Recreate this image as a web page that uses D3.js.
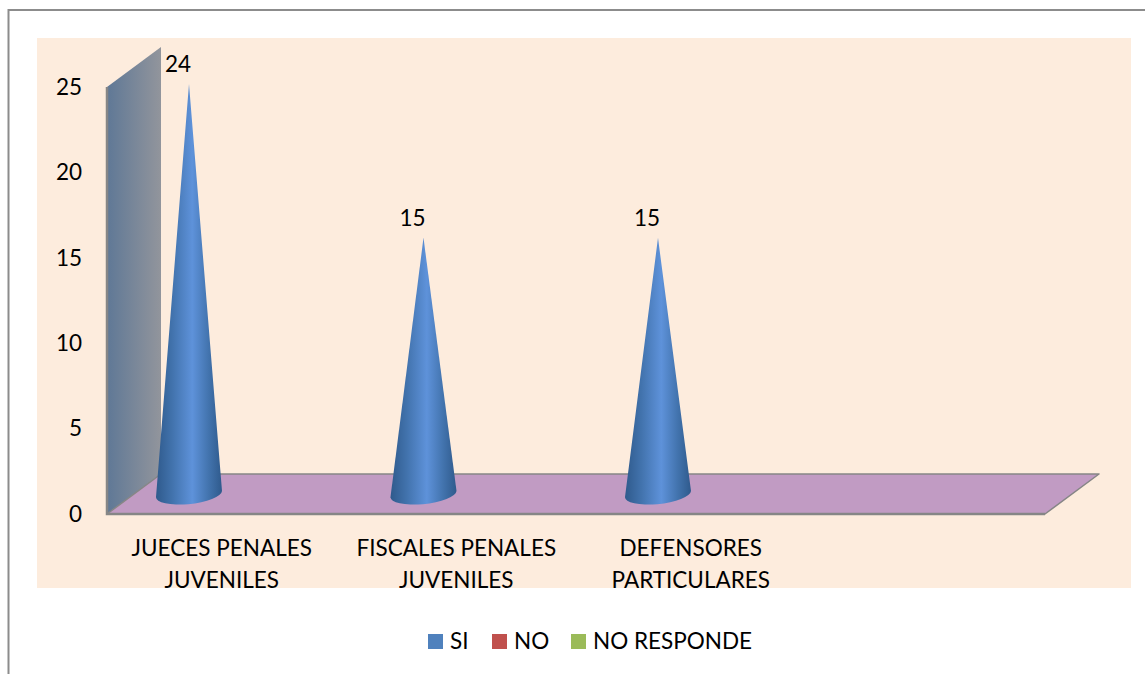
<!DOCTYPE html>
<html>
<head>
<meta charset="utf-8">
<script src="https://cdn.jsdelivr.net/npm/d3@7"></script>
<style>
  html, body { margin: 0; padding: 0; background: #fff; }
  svg { display: block; }
  text { font-family: Lato, "Open Sans", sans-serif; fill: #000; }
</style>
</head>
<body>
<svg id="chart" width="1145" height="674"></svg>
<script>
// values
var categories = [["JUECES PENALES", "JUVENILES"], ["FISCALES PENALES", "JUVENILES"], ["DEFENSORES", "PARTICULARES"], [""]]
var seriesNames = ["SI", "NO", "NO RESPONDE"]
var siValues = [24, 15, 15, null]
var noValues = [null, null, null, null]
var noRespondeValues = [null, null, null, null]
var yTicks = [0, 5, 10, 15, 20, 25]
var seriesColors = ["#4f81bd", "#c0504d", "#9bbb59"]

var svg = d3.select("#chart")

// 3d box of the chart
const boxLeft = 107, boxRight = 1045, boxBottom = 514, boxTop = 87
const depthX = 54, depthY = -40
const fontSize = "22.5px"

var x0 = d3.scaleBand().domain(d3.range(categories.length)).range([boxLeft, boxRight])
var x1 = d3.scaleBand().domain(seriesNames).range([24, 210])
var y = d3.scaleLinear().domain([0, 25]).range([boxBottom, boxTop])

var defs = svg.append("defs")
var wallGrad = defs.append("linearGradient").attr("id", "wallGrad")
wallGrad.append("stop").attr("offset", "0%").attr("stop-color", "#5f7896")
wallGrad.append("stop").attr("offset", "100%").attr("stop-color", "#92959c")

var coneGrad = defs.append("linearGradient").attr("id", "coneGrad")
coneGrad.append("stop").attr("offset", "0%").attr("stop-color", "#2f5a8c")
coneGrad.append("stop").attr("offset", "25%").attr("stop-color", "#4273ad")
coneGrad.append("stop").attr("offset", "55%").attr("stop-color", "#5e92da")
coneGrad.append("stop").attr("offset", "80%").attr("stop-color", "#4273ad")
coneGrad.append("stop").attr("offset", "100%").attr("stop-color", "#2f5a8c")

// the category labels get cut at the bottom of the chart area
defs.append("clipPath").attr("id", "areaClip")
  .append("rect")
  .attr("x", 37).attr("y", 38)
  .attr("width", 1094).attr("height", 550)

// page frame and chart area
svg.append("path")
  .attr("d", "M8.5,674V10H1145")
  .attr("fill", "none")
  .attr("stroke", "#8c8c8c")
  .attr("stroke-width", 2)

svg.append("rect")
  .attr("x", 37).attr("y", 38)
  .attr("width", 1094).attr("height", 550)
  .attr("fill", "#fdecdd")

// back wall
svg.append("path")
  .attr("d", d3.line()([[boxLeft, y(25)], [boxLeft + depthX, y(25) + depthY], [boxLeft + depthX, y(0) + depthY], [boxLeft, y(0)]]) + "Z")
  .attr("fill", "url(#wallGrad)")

// floor
svg.append("path")
  .attr("d", d3.line()([[boxLeft, y(0)], [boxRight, y(0)], [boxRight + depthX, y(0) + depthY], [boxLeft + depthX, y(0) + depthY]]) + "Z")
  .attr("fill", "#c19bc3")
  .attr("stroke", "#868686")
  .attr("stroke-width", 1.5)
  .attr("stroke-linejoin", "round")

// heavier front edges of the box
svg.append("path")
  .attr("d", d3.line()([[boxLeft, y(25)], [boxLeft, y(0)], [boxRight, y(0)]]))
  .attr("fill", "none")
  .attr("stroke", "#868686")
  .attr("stroke-width", 2.5)

// y axis, labels only
var yAxis = svg.append("g")
  .attr("transform", "translate(" + boxLeft + ",0)")
  .call(d3.axisLeft(y).tickValues(yTicks).tickSize(0).tickPadding(25))
yAxis.select(".domain").remove()
yAxis.selectAll("text").style("font-family", "Lato").style("font-size", fontSize).attr("fill", "#000")

// cones, only the SI series has values
var cones = svg.append("g").selectAll("g")
  .data(siValues.map((v, i) => ({ v: v, i: i })).filter(d => d.v != null))
  .enter().append("g")

const coneRx = 33, coneRy = 10
var coneX = d => x0(d.i) + x1("SI") + x1.bandwidth() / 2 + depthX / 2
var coneBase = y(0) + depthY / 2

cones.append("path")
  .attr("d", d => {
    var cx = coneX(d)
    var tipY = y(d.v) + depthY / 2
    return "M" + cx + "," + tipY +
      "L" + (cx + coneRx) + "," + (coneBase - 3) +
      "A" + coneRx + "," + coneRy + " -6 0 1 " + (cx - coneRx) + "," + (coneBase + 3) + "Z"
  })
  .attr("fill", "url(#coneGrad)")

cones.append("text")
  .attr("x", d => coneX(d) - 11)
  .attr("y", d => y(d.v) + depthY / 2 - 12)
  .attr("text-anchor", "middle")
  .style("font-size", fontSize)
  .text(d => d.v)

// category labels
var catLabels = svg.append("g").attr("clip-path", "url(#areaClip)").selectAll("text")
  .data(categories)
  .enter().append("text")
  .attr("text-anchor", "middle")
  .attr("x", (d, i) => x0(i) + x0.bandwidth() / 2 - 2.5)
  .attr("y", 556)
  .style("font-size", fontSize)
catLabels.selectAll("tspan")
  .data(d => d)
  .enter().append("tspan")
  .attr("x", function () { return d3.select(this.parentNode).attr("x") })
  .attr("dy", (d, i) => i == 0 ? 0 : 32)
  .text(d => d)

// legend
var legendX = d3.scaleOrdinal().domain(seriesNames).range([428, 492, 571])
var legend = svg.append("g").selectAll("g")
  .data(seriesNames)
  .enter().append("g")
  .attr("transform", d => "translate(" + legendX(d) + ",634)")
legend.append("rect")
  .attr("width", 15).attr("height", 15)
  .attr("fill", (d, i) => seriesColors[i])
legend.append("text")
  .attr("x", 22).attr("y", 15)
  .style("font-size", fontSize)
  .text(d => d)
</script>
</body>
</html>
